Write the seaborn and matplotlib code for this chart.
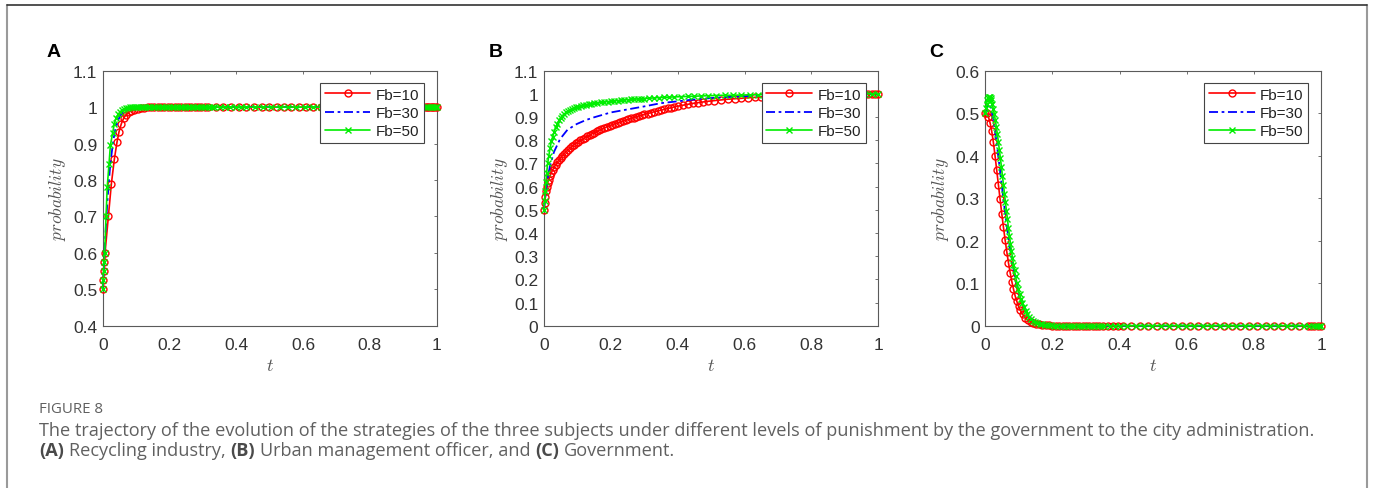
import matplotlib
matplotlib.use("Agg")
import matplotlib.pyplot as plt
import seaborn as sns
from matplotlib.lines import Line2D
from matplotlib.ticker import FuncFormatter, FixedLocator
from matplotlib.transforms import IdentityTransform

# ---------------- data ----------------
labels = ["Fb=10", "Fb=30", "Fb=50"]

# Panel A: Recycling industry
tA_10 = [0.000, 0.002, 0.003, 0.005, 0.007, 0.017, 0.026, 0.035, 0.043, 0.049, 0.056, 0.063, 0.070, 0.078, 0.086, 0.095,
         0.105, 0.115, 0.125, 0.135, 0.145, 0.155, 0.165, 0.175, 0.185, 0.195, 0.205, 0.215, 0.225, 0.235, 0.245, 0.255,
         0.265, 0.275, 0.285, 0.295, 0.305, 0.315,
         0.338, 0.361, 0.384, 0.407, 0.430, 0.453, 0.476, 0.499, 0.521, 0.543, 0.565, 0.587, 0.609, 0.631,
         0.655, 0.680, 0.705, 0.730, 0.755, 0.780, 0.805, 0.830, 0.855, 0.880, 0.905, 0.930, 0.955,
         0.965, 0.970, 0.975, 0.980, 0.985, 0.990, 0.995, 1.000]
yA_10 = [0.500, 0.525, 0.550, 0.575, 0.600, 0.700, 0.790, 0.858, 0.905, 0.933, 0.955, 0.970, 0.979, 0.986, 0.990, 0.993,
         0.995, 0.997, 0.998, 0.999, 0.999, 1.000, 1.000, 1.000, 1.000, 1.000, 1.000, 1.000, 1.000, 1.000, 1.000, 1.000,
         1.000, 1.000, 1.000, 1.000, 1.000, 1.000,
         1.000, 1.000, 1.000, 1.000, 1.000, 1.000, 1.000, 1.000, 1.000, 1.000, 1.000, 1.000, 1.000, 1.000,
         1.000, 1.000, 1.000, 1.000, 1.000, 1.000, 1.000, 1.000, 1.000, 1.000, 1.000, 1.000, 1.000,
         1.000, 1.000, 1.000, 1.000, 1.000, 1.000, 1.000, 1.000]

tA_30 = [0.000, 0.003, 0.006, 0.010, 0.014, 0.018, 0.022, 0.027, 0.032, 0.038, 0.045, 0.053, 0.062, 0.072, 0.085, 0.100,
         0.130, 0.200, 0.400, 0.700, 1.000]
yA_30 = [0.500, 0.550, 0.610, 0.680, 0.740, 0.790, 0.835, 0.875, 0.910, 0.940, 0.962, 0.977, 0.987, 0.993, 0.997, 0.999,
         1.000, 1.000, 1.000, 1.000, 1.000]

tA_50 = [0.000, 0.0015, 0.003, 0.0045, 0.006, 0.010, 0.0135, 0.019, 0.023, 0.030, 0.035, 0.040, 0.046, 0.052, 0.058, 0.064,
         0.070, 0.076, 0.082, 0.088, 0.094, 0.100, 0.107, 0.114, 0.121, 0.128, 0.135, 0.142, 0.150, 0.158, 0.166, 0.174,
         0.182, 0.190, 0.198, 0.206, 0.214, 0.222, 0.230, 0.238, 0.246, 0.254, 0.262, 0.270, 0.278, 0.286, 0.294, 0.302,
         0.310, 0.318, 0.326, 0.334, 0.350, 0.366, 0.382, 0.398, 0.414, 0.430, 0.455, 0.480, 0.505, 0.530, 0.555, 0.580,
         0.605, 0.630, 0.655, 0.680, 0.705, 0.730, 0.755, 0.780, 0.805, 0.830, 0.855, 0.880, 0.905, 0.930, 0.955, 0.967,
         0.973, 0.979, 0.985, 0.991, 0.997, 1.000]
yA_50 = [0.500, 0.525, 0.550, 0.575, 0.600, 0.700, 0.780, 0.845, 0.895, 0.930, 0.955, 0.970, 0.980, 0.987, 0.992, 0.995,
         0.997, 0.998, 0.999, 0.999, 1.000, 1.000, 1.000, 1.000, 1.000, 1.000, 1.000, 1.000, 1.000, 1.000, 1.000, 1.000,
         1.000, 1.000, 1.000, 1.000, 1.000, 1.000, 1.000, 1.000, 1.000, 1.000, 1.000, 1.000, 1.000, 1.000, 1.000, 1.000,
         1.000, 1.000, 1.000, 1.000, 1.000, 1.000, 1.000, 1.000, 1.000, 1.000, 1.000, 1.000, 1.000, 1.000, 1.000, 1.000,
         1.000, 1.000, 1.000, 1.000, 1.000, 1.000, 1.000, 1.000, 1.000, 1.000, 1.000, 1.000, 1.000, 1.000, 1.000, 1.000,
         1.000, 1.000, 1.000, 1.000, 1.000, 1.000]

# Panel B: Urban management officer
tB_10 = [0.000, 0.002, 0.004, 0.006, 0.008, 0.011, 0.014, 0.018, 0.022, 0.026, 0.030,
         0.035, 0.040, 0.045, 0.050, 0.055, 0.060,
         0.066, 0.072, 0.078, 0.084, 0.090, 0.096, 0.102,
         0.109, 0.116, 0.123, 0.130, 0.137, 0.144, 0.151, 0.158, 0.165, 0.172,
         0.180, 0.188, 0.196, 0.204, 0.212, 0.220, 0.228, 0.236, 0.244, 0.252, 0.260, 0.268, 0.276, 0.284, 0.292, 0.300,
         0.310, 0.320, 0.330, 0.340, 0.350, 0.360, 0.370, 0.380, 0.390, 0.400,
         0.415, 0.430, 0.445, 0.460, 0.475, 0.490,
         0.510, 0.530, 0.550, 0.570, 0.590, 0.610, 0.630, 0.650, 0.670, 0.690, 0.710, 0.730, 0.750, 0.770, 0.790, 0.810,
         0.830, 0.850, 0.870, 0.890, 0.910, 0.930, 0.950,
         0.960, 0.970, 0.980, 0.990, 1.000]
yB_10 = [0.500, 0.530, 0.555, 0.580, 0.600, 0.615, 0.630, 0.645, 0.660, 0.672, 0.683,
         0.695, 0.706, 0.716, 0.725, 0.734, 0.742,
         0.751, 0.759, 0.767, 0.774, 0.781, 0.787, 0.793,
         0.799, 0.805, 0.811, 0.817, 0.822, 0.828, 0.833, 0.838, 0.843, 0.848,
         0.853, 0.858, 0.863, 0.867, 0.871, 0.875, 0.879, 0.883, 0.887, 0.891, 0.894, 0.898, 0.901, 0.905, 0.908, 0.912,
         0.915, 0.919, 0.923, 0.926, 0.930, 0.933, 0.937, 0.940, 0.944, 0.947,
         0.951, 0.955, 0.959, 0.962, 0.965, 0.968,
         0.971, 0.974, 0.977, 0.979, 0.981, 0.983, 0.985, 0.987, 0.988, 0.989, 0.990, 0.991, 0.992, 0.993, 0.994, 0.995,
         0.995, 0.996, 0.997, 0.997, 0.998, 0.998, 0.999,
         0.999, 0.999, 0.999, 1.000, 1.000]

tB_30 = [0.000, 0.005, 0.010, 0.018, 0.030, 0.048, 0.070, 0.098, 0.125, 0.150, 0.200, 0.250, 0.300, 0.350, 0.400,
         0.450, 0.500, 0.550, 0.600, 0.650, 0.700, 0.800, 0.900, 1.000]
yB_30 = [0.500, 0.575, 0.630, 0.690, 0.750, 0.805, 0.845, 0.870, 0.887, 0.899, 0.920, 0.933, 0.946, 0.960, 0.968,
         0.976, 0.982, 0.986, 0.990, 0.993, 0.995, 0.998, 0.999, 1.000]

tB_50 = [0.000, 0.002, 0.004, 0.006, 0.008, 0.011, 0.014, 0.018, 0.022, 0.026, 0.030,
         0.035, 0.040, 0.045, 0.050, 0.055, 0.060,
         0.066, 0.072, 0.078, 0.084, 0.090, 0.096, 0.103, 0.110, 0.118, 0.126, 0.134, 0.142, 0.150,
         0.160, 0.170, 0.180, 0.190, 0.200, 0.210, 0.220, 0.230, 0.240, 0.250, 0.260, 0.270, 0.280, 0.290, 0.300,
         0.315, 0.330, 0.345, 0.360, 0.375, 0.390, 0.410, 0.430, 0.450, 0.470, 0.490,
         0.515, 0.540, 0.565, 0.590, 0.615, 0.640, 0.670, 0.700, 0.730, 0.760, 0.790, 0.820, 0.850, 0.880, 0.910,
         0.940, 0.960, 0.980, 1.000]
yB_50 = [0.500, 0.540, 0.580, 0.620, 0.660, 0.700, 0.730, 0.765, 0.795, 0.815, 0.835,
         0.855, 0.872, 0.886, 0.897, 0.906, 0.913,
         0.920, 0.926, 0.931, 0.935, 0.939, 0.942, 0.945, 0.947, 0.950, 0.953, 0.955, 0.957, 0.959,
         0.961, 0.963, 0.965, 0.967, 0.968, 0.970, 0.971, 0.973, 0.974, 0.975, 0.976, 0.977, 0.978, 0.979, 0.980,
         0.981, 0.983, 0.984, 0.985, 0.986, 0.987, 0.988, 0.989, 0.990, 0.991, 0.992,
         0.993, 0.994, 0.994, 0.995, 0.996, 0.996, 0.997, 0.997, 0.998, 0.998, 0.998, 0.999, 0.999, 0.999, 0.999,
         1.000, 1.000, 1.000, 1.000]

# Panel C: Government
tC_10 = [0.000, 0.004, 0.009, 0.014, 0.019, 0.024, 0.029, 0.034, 0.039, 0.044,
         0.049, 0.054, 0.059, 0.064, 0.069, 0.074, 0.079, 0.084, 0.089, 0.094,
         0.099, 0.104, 0.111, 0.119, 0.127, 0.135, 0.143, 0.152, 0.161, 0.170,
         0.180, 0.190, 0.200, 0.210, 0.220, 0.230, 0.240, 0.250, 0.260, 0.270,
         0.280, 0.290, 0.300, 0.310, 0.320, 0.330, 0.340, 0.350, 0.365, 0.380,
         0.395, 0.410, 0.435, 0.460, 0.485, 0.510, 0.535, 0.560, 0.585, 0.610,
         0.635, 0.660, 0.685, 0.710, 0.735, 0.760, 0.785, 0.810, 0.835, 0.860,
         0.885, 0.910, 0.935, 0.960, 0.970, 0.980, 0.990, 1.000]
yC_10 = [0.500, 0.500, 0.492, 0.478, 0.458, 0.432, 0.400, 0.366, 0.332, 0.298,
         0.264, 0.232, 0.202, 0.174, 0.148, 0.125, 0.104, 0.086, 0.070, 0.057,
         0.046, 0.037, 0.027, 0.019, 0.013, 0.009, 0.006, 0.004, 0.003, 0.002,
         0.001, 0.001, 0.000, 0.000, 0.000, 0.000, 0.000, 0.000, 0.000, 0.000,
         0.000, 0.000, 0.000, 0.000, 0.000, 0.000, 0.000, 0.000, 0.000, 0.000,
         0.000, 0.000, 0.000, 0.000, 0.000, 0.000, 0.000, 0.000, 0.000, 0.000,
         0.000, 0.000, 0.000, 0.000, 0.000, 0.000, 0.000, 0.000, 0.000, 0.000,
         0.000, 0.000, 0.000, 0.000, 0.000, 0.000, 0.000, 0.000]

tC_30 = [0.000, 0.006, 0.012, 0.018, 0.024, 0.030, 0.036, 0.042, 0.048, 0.054, 0.060, 0.066, 0.072, 0.078, 0.084,
         0.090, 0.100, 0.110, 0.120, 0.130, 0.140, 0.150, 0.170, 0.200, 0.250, 1.000]
yC_30 = [0.500, 0.518, 0.522, 0.510, 0.485, 0.452, 0.416, 0.377, 0.337, 0.298, 0.260, 0.224, 0.191, 0.161, 0.134,
         0.110, 0.078, 0.053, 0.035, 0.022, 0.014, 0.008, 0.003, 0.001, 0.000, 0.000]

tC_50 = [0.000, 0.002, 0.004, 0.006, 0.008, 0.010, 0.012, 0.014, 0.016, 0.018,
         0.021, 0.024, 0.027, 0.030, 0.033, 0.036, 0.039, 0.042, 0.045, 0.048,
         0.051, 0.054, 0.057, 0.060, 0.063, 0.066, 0.069, 0.072, 0.075, 0.078,
         0.081, 0.084, 0.087, 0.090, 0.094, 0.098, 0.102, 0.106, 0.110, 0.115,
         0.120, 0.125, 0.130, 0.136, 0.142, 0.148, 0.155, 0.162, 0.170, 0.178,
         0.186, 0.195, 0.205, 0.215, 0.225, 0.235, 0.245, 0.255, 0.265, 0.275,
         0.285, 0.295, 0.305, 0.315, 0.325, 0.335, 0.345, 0.355, 0.370, 0.385,
         0.400, 0.423, 0.448, 0.473, 0.498, 0.523, 0.548, 0.573, 0.598, 0.623,
         0.648, 0.673, 0.698, 0.723, 0.748, 0.773, 0.798, 0.823, 0.848, 0.873,
         0.898, 0.923, 0.948, 0.965, 0.975, 0.985, 0.995, 1.000]
yC_50 = [0.500, 0.512, 0.522, 0.530, 0.535, 0.538, 0.539, 0.538, 0.535, 0.530,
         0.521, 0.510, 0.497, 0.483, 0.467, 0.450, 0.432, 0.413, 0.394, 0.374,
         0.353, 0.332, 0.311, 0.290, 0.270, 0.250, 0.230, 0.211, 0.193, 0.176,
         0.159, 0.144, 0.130, 0.117, 0.101, 0.087, 0.074, 0.063, 0.053, 0.043,
         0.034, 0.027, 0.021, 0.016, 0.012, 0.009, 0.006, 0.004, 0.003, 0.002,
         0.001, 0.001, 0.000, 0.000, 0.000, 0.000, 0.000, 0.000, 0.000, 0.000,
         0.000, 0.000, 0.000, 0.000, 0.000, 0.000, 0.000, 0.000, 0.000, 0.000,
         0.000, 0.000, 0.000, 0.000, 0.000, 0.000, 0.000, 0.000, 0.000, 0.000,
         0.000, 0.000, 0.000, 0.000, 0.000, 0.000, 0.000, 0.000, 0.000, 0.000,
         0.000, 0.000, 0.000, 0.000, 0.000, 0.000, 0.000, 0.000]

x_ticks = [0, 0.2, 0.4, 0.6, 0.8, 1.0]
yticks_A = [0.4, 0.5, 0.6, 0.7, 0.8, 0.9, 1.0, 1.1]
yticks_B = [0, 0.1, 0.2, 0.3, 0.4, 0.5, 0.6, 0.7, 0.8, 0.9, 1.0, 1.1]
yticks_C = [0, 0.1, 0.2, 0.3, 0.4, 0.5, 0.6]

panel_letters = ["A", "B", "C"]
caption_head = "FIGURE 8"
caption_line1 = ("The trajectory of the evolution of the strategies of the three subjects under different levels "
                 "of punishment by the government to the city administration.")
caption_runs2 = [("(A)", "bold"), ("Recycling industry,", "normal"), ("(B)", "bold"),
                 ("Urban management officer, and", "normal"), ("(C)", "bold"), ("Government.", "normal")]

# ---------------- style ----------------
sns.set_style("white")
plt.rcParams["font.family"] = ["Liberation Sans", "DejaVu Sans"]
plt.rcParams["mathtext.fontset"] = "cm"

W, H = 1373, 489
fig = plt.figure(figsize=(W / 100, H / 100), dpi=100)
fig.patch.set_facecolor("white")


def px_axes(l, t, r, b):
    return fig.add_axes([l / W, 1 - b / H, (r - l) / W, (b - t) / H])


def text_px(x, y, s, **kw):
    return fig.text(x, H - y, s, transform=IdentityTransform(), **kw)


TXT = "#333333"
SPINE = "#5a5a5a"

boxes = [(102.7, 71.7, 436.7, 326.7), (544.0, 71.7, 878.3, 326.7), (985.3, 71.7, 1321.0, 326.7)]
series = [
    [(tA_10, yA_10), (tA_30, yA_30), (tA_50, yA_50)],
    [(tB_10, yB_10), (tB_30, yB_30), (tB_50, yB_50)],
    [(tC_10, yC_10), (tC_30, yC_30), (tC_50, yC_50)],
]
ylims = [(0.4, 1.1), (0.0, 1.1), (0.0, 0.6)]
yticks = [yticks_A, yticks_B, yticks_C]
letter_x = [46.7, 488.3, 929.3]

fmt = FuncFormatter(lambda v, p: f"{round(v, 6):g}")

for i, (box, ser) in enumerate(zip(boxes, series)):
    ax = px_axes(*box)
    (t1, y1), (t2, y2), (t3, y3) = ser
    sns.lineplot(x=t1, y=y1, ax=ax, estimator=None, color="#ff0000", lw=1.2, marker="o", markersize=5,
                 markerfacecolor="none", markeredgecolor="#ff0000", markeredgewidth=1.0,
                 label=labels[0], clip_on=False, zorder=3)
    sns.lineplot(x=t2, y=y2, ax=ax, estimator=None, color="#0000ff", lw=1.3,
                 linestyle=(0, (5, 2, 1.5, 2)), label=labels[1], clip_on=False, zorder=4)
    sns.lineplot(x=t3, y=y3, ax=ax, estimator=None, color="#00ee00", lw=1.2, marker="x", markersize=5,
                 markeredgecolor="#00ee00", markeredgewidth=1.0,
                 label=labels[2], clip_on=False, zorder=5)

    ax.set_xlim(0, 1)
    ax.set_ylim(*ylims[i])
    ax.xaxis.set_major_locator(FixedLocator(x_ticks))
    ax.yaxis.set_major_locator(FixedLocator(yticks[i]))
    ax.xaxis.set_major_formatter(fmt)
    ax.yaxis.set_major_formatter(fmt)
    ax.tick_params(direction="in", length=2.4, width=0.6, color=SPINE, top=True, right=True,
                   labelsize=12.5, labelcolor=TXT)
    ax.tick_params(axis="x", pad=8)
    ax.tick_params(axis="y", pad=4)
    for sp in ax.spines.values():
        sp.set_visible(True)
        sp.set_color(SPINE)
        sp.set_linewidth(0.8)
    ax.set_xlabel("")
    ax.set_ylabel("")

    w_ax = box[2] - box[0]
    h_ax = box[3] - box[1]
    leg = ax.legend(loc="upper right", bbox_to_anchor=(1 - 12.8 / w_ax, 1 - 12.3 / h_ax), borderaxespad=0,
                    fontsize=11, frameon=True, fancybox=False, edgecolor="#444444", framealpha=1,
                    handlelength=3.0, handletextpad=0.35, labelspacing=0.28, borderpad=0.3)
    leg.get_frame().set_linewidth(0.8)
    for txt in leg.get_texts():
        txt.set_color("#222222")
    leg.set_zorder(10)

    # axis labels (MATLAB-style italic math text)
    text_px(box[0] - 44.7, (box[1] + box[3]) / 2, r"$probability$", fontsize=12.5, color="#555555",
            rotation=90, ha="center", va="center")
    text_px((box[0] + box[2]) / 2, 366.7, r"$t$", fontsize=13, color="#555555", ha="center", va="center")

    # panel letter
    text_px(letter_x[i], 57.3, panel_letters[i], fontsize=14, fontweight="bold", color="black",
            ha="left", va="baseline")

# ---------------- caption ----------------
CAP_FONT = ["Open Sans", "DejaVu Sans"]
CAP_COLOR = "#606060"
fig.canvas.draw()
rend = fig.canvas.get_renderer()


def wpx(t):
    return t.get_window_extent(renderer=rend).width


x0 = 39.0
head = text_px(x0, 413, caption_head, fontsize=10, family=CAP_FONT, color=CAP_COLOR, va="baseline")
l1 = text_px(x0, 436, caption_line1, fontsize=10, family=CAP_FONT, color=CAP_COLOR, va="baseline")
fig.canvas.draw()
head.set_fontsize(10 * 64.0 / wpx(head))
size = 10 * 1276.0 / wpx(l1)
l1.set_fontsize(size)
fig.canvas.draw()

pa = text_px(0, 0, "a a", fontsize=size, family=CAP_FONT)
pb = text_px(0, 0, "aa", fontsize=size, family=CAP_FONT)
fig.canvas.draw()
space_w = wpx(pa) - wpx(pb)
pa.remove()
pb.remove()

xc = x0
for s, wt in caption_runs2:
    t = text_px(xc, 456, s, fontsize=size, family=CAP_FONT, fontweight=wt,
                color=CAP_COLOR if wt == "normal" else "#4a4a4a", va="baseline")
    fig.canvas.draw()
    xc += wpx(t) + space_w

# ---------------- outer frame ----------------
fig.add_artist(Line2D([6.7, 6.7], [H - 6, 0], transform=IdentityTransform(), color="#9a9a9a", lw=1.5))
fig.add_artist(Line2D([1366.7, 1366.7], [H - 6, 0], transform=IdentityTransform(), color="#9a9a9a", lw=1.5))
fig.add_artist(Line2D([6.7, 1366.7], [H - 6, H - 6], transform=IdentityTransform(), color="#333333", lw=1.2))

fig.savefig("out.png", dpi=100, facecolor="white")
